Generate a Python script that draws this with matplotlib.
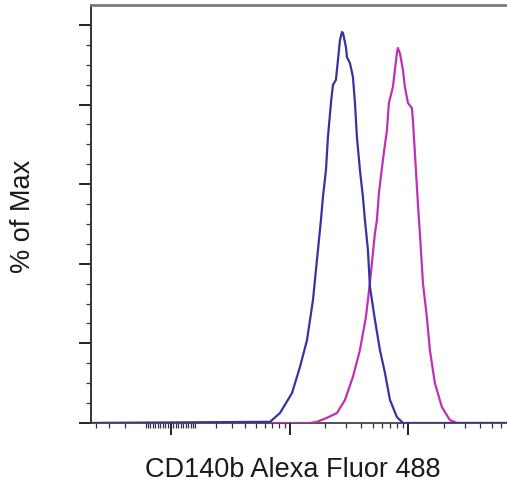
import numpy as np
import matplotlib
matplotlib.use("Agg")
import matplotlib.pyplot as plt

# ---- data ----
blue_x = [-445, 671, 819, 1039, 1216, 1395, 1568, 1728, 1832, 1904, 2020, 2098,
          2225, 2313, 2452, 2549, 2652, 2755, 2810, 2978, 3036, 3217, 3410, 3545,
          3683, 3902, 4136, 4300, 4558, 4739, 5222, 5752, 6338, 6983, 7988, 8975, 67300]
blue_y = [0, 0.3, 2.5, 7.5, 14.1, 20.8, 30.9, 43.5, 51.0, 56.8, 63.6, 71.8,
          80.4, 84.9, 86.2, 91.2, 96.2, 98.2, 98.0, 94.4, 91.9, 90.4, 86.9, 80.4,
          71.8, 63.6, 56.8, 51.0, 43.5, 34.2, 25.9, 18.3, 12.6, 5.8, 1.5, 0, 0]

mag_x = [-445, 1478, 1696, 2059, 2502, 2920, 3410, 3902, 4383, 4739, 5222, 5426,
         5641, 6094, 6588, 6844, 7398, 7687, 7988, 8144, 8468, 8975, 9331, 9889,
         10680, 10890, 11320, 11770, 12240, 12470, 13220, 14270, 15130, 16670,
         19080, 22270, 25510, 67300]
mag_y = [0, 0, 0.3, 1.3, 2.5, 5.8, 11.6, 18.3, 26.6, 35.2, 47.7, 51.0,
         57.8, 66.1, 73.6, 80.4, 84.4, 88.7, 92.9, 94.2, 92.9, 88.7, 84.4, 80.4,
         79.1, 76.1, 67.8, 59.3, 51.0, 47.7, 35.2, 26.6, 18.3, 10.0,
         4.0, 0.75, 0, 0]

x_major = [0, 1000, 10000]
x_minor = ([-400, -300, -200, -100] + list(range(-90, 0, 10)) + list(range(10, 100, 10))
           + list(range(100, 1000, 100)) + list(range(2000, 10000, 1000))
           + list(range(20000, 70000, 10000)))
y_major = [0, 20, 40, 60, 80, 100]
y_minor = [v for v in range(0, 105, 5) if v % 20 != 0]

xlabel = "CD140b Alexa Fluor 488"
ylabel = "% of Max"

# ---- figure ----
W, H = 507, 490
fig = plt.figure(figsize=(W / 100, H / 100), dpi=100)
ax = fig.add_axes([91 / W, 1 - 423 / H, 416 / W, 418 / H])

C = 200.0
ax.set_xscale('function', functions=(lambda v: np.arcsinh(np.asarray(v) / C),
                                     lambda v: C * np.sinh(np.asarray(v))))

ax.plot(mag_x, mag_y, color='#c030b4', lw=1.6, solid_joinstyle='round', zorder=3)
ax.plot(blue_x, blue_y, color='#3434a2', lw=1.6, solid_joinstyle='round', zorder=4)

ax.set_xlim(-445, 67300)
ax.set_ylim(0, 105)

ax.set_xticks(x_major)
ax.set_xticks(x_minor, minor=True)
ax.set_yticks(y_major)
ax.set_yticks(y_minor, minor=True)
ax.tick_params(which='major', direction='out', length=8.5, width=1.4, color='#222222',
               labelbottom=False, labelleft=False)
ax.tick_params(which='minor', direction='out', length=3.5, width=0.9, color='#333333')
ax.tick_params(axis='x', which='both', top=False)
ax.tick_params(axis='y', which='both', right=False)

ax.spines['right'].set_visible(False)
ax.spines['top'].set_color('#7a7a7a')
ax.spines['top'].set_linewidth(2.0)
ax.spines['left'].set_color('#333333')
ax.spines['left'].set_linewidth(1.4)
ax.spines['bottom'].set_color('#333333')
ax.spines['bottom'].set_linewidth(1.2)

font = dict(family=['Liberation Sans', 'DejaVu Sans'], size=19.5, color='#1a1a1a')
ax.set_xlabel(xlabel, **font)
ax.xaxis.label.set_va('center')
ax.xaxis.set_label_coords((293 - 91) / 416, (423 - 470) / 418)
ax.set_ylabel(ylabel, **font)
ax.yaxis.label.set_va('center')
ax.yaxis.set_label_coords((23 - 91) / 416, (423 - 216) / 418)

fig.savefig('out.png', dpi=100)
